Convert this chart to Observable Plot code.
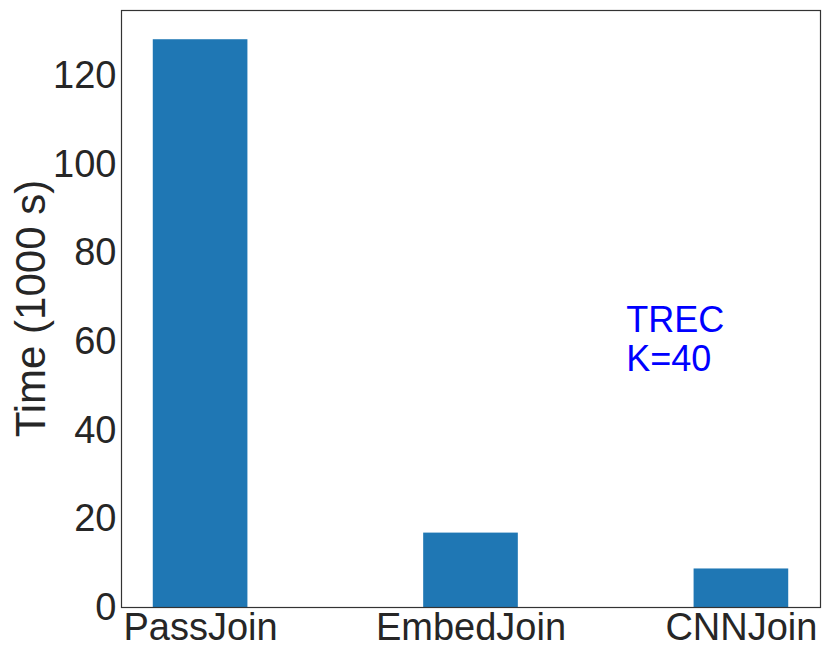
<!DOCTYPE html>
<html>
<head>
<meta charset="utf-8">
<script src="https://cdn.jsdelivr.net/npm/d3@7"></script>
<script src="https://cdn.jsdelivr.net/npm/@observablehq/plot@0.6"></script>
<style>
  body { margin: 0; background: #fff; }
  svg { font-family: "Liberation Sans", Arial, sans-serif; }
</style>
</head>
<body>
<div id="chart"></div>
<script>
const categories = ["PassJoin", "EmbedJoin", "CNNJoin"];
const times = [128.2, 16.8, 8.7];
const yTicks = [0, 20, 40, 60, 80, 100, 120];
const annotation = "TREC\nK=40";
const yLabel = "Time (1000 s)";

const data = categories.map((c, i) => ({i, name: c, value: times[i]}));
const barW = 0.35;

const chart = Plot.plot({
  width: 830,
  height: 658,
  marginLeft: 121,
  marginRight: 10,
  marginTop: 10,
  marginBottom: 51,
  style: {fontFamily: "'Liberation Sans', Arial, sans-serif", background: "#fff"},
  x: {domain: [-0.2925, 2.2925]},
  y: {domain: [0, 134.8]},
  marks: [
    Plot.rectY(data, {x1: d => d.i - barW / 2, x2: d => d.i + barW / 2, y1: 0, y2: "value", fill: "#1f77b4"}),
    Plot.frame({stroke: "#333", strokeWidth: 1.2}),
    Plot.axisY({ticks: yTicks, tickSize: 0, tickPadding: 5, fontSize: 38, color: "#262626", label: null}),
    Plot.axisX({ticks: [0, 1, 2], tickFormat: i => categories[i], tickSize: 0, tickPadding: 6, fontSize: 38, color: "#262626", label: null}),
    Plot.text([yLabel], {x: -0.625, y: 67.5, text: d => d, rotate: -90, fontSize: 42, fill: "#262626"}),
    Plot.text([annotation], {x: 1.574, y: 68.4, text: d => d, textAnchor: "start", lineAnchor: "top", lineHeight: 1.083, fontSize: 36, fill: "blue"})
  ]
});
document.getElementById("chart").appendChild(chart);
</script>
</body>
</html>
